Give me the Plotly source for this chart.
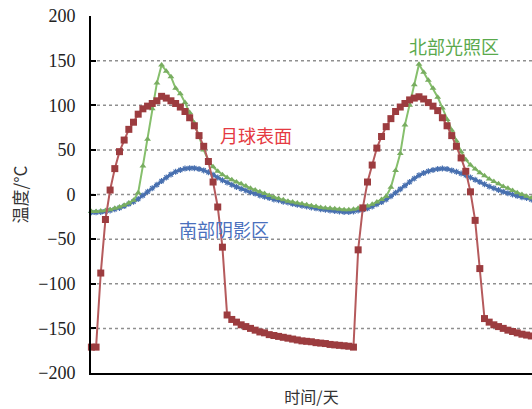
import plotly.graph_objects as go

# Sampled temperatures (°C), one value per time step, two lunar day/night cycles
surface_temp = [
    -171, -171, -88, -28, 5, 29, 48, 61, 73, 81,
    90, 96, 99, 102, 105, 110, 108, 105, 102, 98,
    93, 86, 77, 66, 54, 37, 14, -14, -59, -135,
    -140, -143, -146, -148, -150, -152, -154, -155, -157, -158,
    -159, -160, -161, -162, -163, -164, -164.5, -165, -166, -166.5,
    -167, -168, -168.5, -169, -169.5, -170, -171, -62, -15, 14,
    33, 52, 65, 76, 85, 93, 98, 102, 106, 108,
    109.5, 107, 103, 99, 94, 86, 77, 66, 54, 41,
    26, 3, -29, -83, -139, -143, -146, -148, -150, -152,
    -153.5, -155, -156.5, -157.5, -158.5,
]

north_lit_temp = [
    -19, -19, -18.5, -18, -17, -15.5, -14, -12, -9.5, -6.5,
    2, 32, 62, 96, 125, 145, 138, 132, 119, 113,
    103, 92, 80, 65, 50, 38, 31, 26, 22, 19,
    16.5, 14, 12, 9.5, 7, 5, 3, 1, -1, -3,
    -4.5, -6, -7.5, -8.5, -9.5, -10.5, -11.5, -12.5, -13.5, -14.5,
    -15, -15.5, -16, -16.5, -17, -17, -16.5, -15.5, -14.5, -13,
    -11, -8.5, -5.5, -2, 8, 27, 46, 78, 100, 123,
    146, 137, 128, 119, 109, 97, 84, 72, 60, 48,
    39, 33, 28.5, 24.5, 21, 17.5, 14.5, 12, 9, 7,
    4.5, 2, 0, -2, -4,
]

south_shadow_temp = [
    -20, -20, -19.5, -19, -18, -16.5, -15, -13, -10.5, -8,
    -5, -1, 3, 7, 11, 15, 19, 22.5, 25.5, 27.5,
    29, 29.5, 29.5, 28.5, 27, 25, 22, 19, 16, 13.5,
    11, 8.5, 6.5, 4.5, 2.5, 1, -1, -2.5, -4, -5.5,
    -6.5, -8, -9, -10.5, -11.5, -12.5, -13.5, -14.5, -15.5, -16.5,
    -17, -18, -18.5, -19, -19.5, -19.5, -19, -18, -17, -15.5,
    -13.5, -11, -8.5, -5.5, -2, 2, 6, 10, 14, 18,
    21.5, 24, 26, 27.5, 28.5, 29, 28.5, 27, 25.5, 23.5,
    21.5, 19, 16.5, 14, 11.5, 9, 7, 5, 3, 1.5,
    0, -1.5, -3, -4, -5.5,
]

y_ticks = [-200, -150, -100, -50, 0, 50, 100, 150, 200]
grid_levels = [-150, -100, -50, 0, 50, 100, 150]

steps = list(range(len(surface_temp)))

fig = go.Figure()

fig.add_trace(go.Scatter(
    x=steps, y=south_shadow_temp, mode="lines+markers", name="南部阴影区",
    line=dict(color="#4870b0", width=2.5, shape="spline"),
    marker=dict(symbol="asterisk-open", size=5,
                line=dict(color="#a8c6ea", width=1.2)),
    cliponaxis=False,
))
fig.add_trace(go.Scatter(
    x=steps, y=north_lit_temp, mode="lines+markers", name="北部光照区",
    line=dict(color="#86bf6c", width=2),
    marker=dict(symbol="triangle-up", size=6, color="#78ad60"),
    cliponaxis=False,
))
fig.add_trace(go.Scatter(
    x=steps, y=surface_temp, mode="lines+markers", name="月球表面",
    line=dict(color="#b55a5c", width=2),
    marker=dict(symbol="square", size=7, color="#9c3c3f"),
    cliponaxis=False,
))

# dotted horizontal reference lines
for level in grid_levels:
    fig.add_shape(type="line", xref="paper", x0=0, x1=1, yref="y", y0=level, y1=level,
                  line=dict(color="#8f8f8f", width=1.5, dash="dot"), layer="below")

# in-plot series labels
label_font = "Noto Sans CJK SC"
fig.add_annotation(x=77.4, y=166, text="北部光照区", showarrow=False,
                   font=dict(family=label_font, size=18, color="#5aa94c"))
fig.add_annotation(x=35.2, y=67, text="月球表面", showarrow=False,
                   font=dict(family=label_font, size=18, color="#e53a42"))
fig.add_annotation(x=28.4, y=-39, text="南部阴影区", showarrow=False,
                   font=dict(family=label_font, size=18, color="#4a70bd"))

fig.update_layout(
    width=532, height=409,
    margin=dict(l=91, r=0, t=16, b=36),
    plot_bgcolor="white", paper_bgcolor="white",
    showlegend=False,
    xaxis=dict(
        range=[-0.085, 94.15], showgrid=False, zeroline=False,
        showticklabels=False, ticks="",
        showline=True, linecolor="black", linewidth=2,
        title=dict(text="时间/天", standoff=18,
                   font=dict(family=label_font, size=16, color="#333")),
    ),
    yaxis=dict(
        range=[-200, 200], tickvals=y_ticks, showgrid=False, zeroline=False,
        showline=True, linecolor="black", linewidth=2,
        ticks="inside", ticklen=5, tickcolor="black", tickwidth=1.5,
        ticklabelstandoff=10,
        tickfont=dict(family="Liberation Serif, Times New Roman, serif", size=18, color="#222"),
        title=dict(text="温度/°C", standoff=6,
                   font=dict(family=label_font, size=17, color="#333")),
    ),
)

fig.write_html("out.html")
